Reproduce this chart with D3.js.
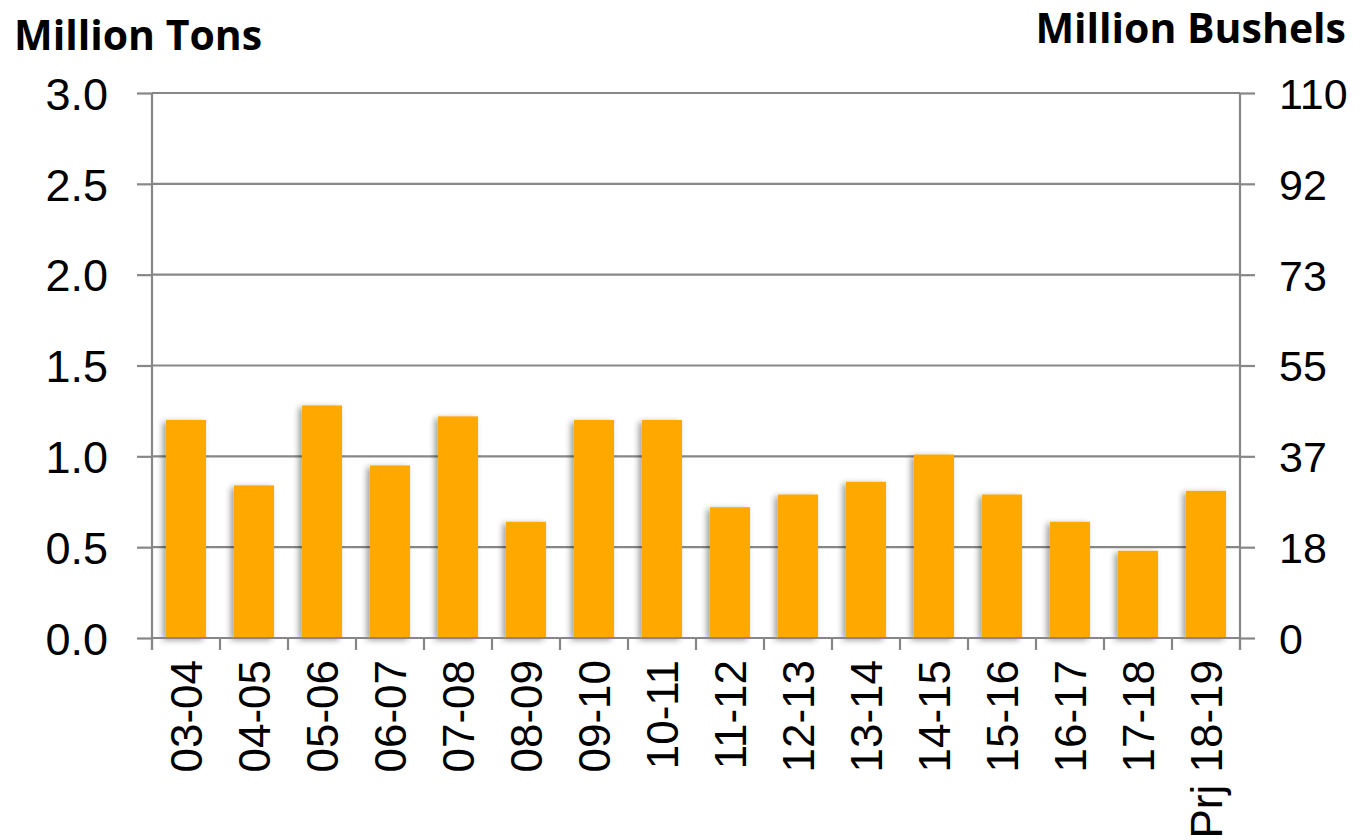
<!DOCTYPE html>
<html>
<head>
<meta charset="utf-8">
<script src="https://cdn.jsdelivr.net/npm/d3@7"></script>
<style>
body{margin:0;background:#fff;}
.tick text{font-family:"Liberation Sans",Arial,sans-serif;}
.title{font-family:"Open Sans","DejaVu Sans",sans-serif;font-weight:bold;}
</style>
</head>
<body>
<svg id="chart" width="1363" height="840"></svg>
<script>
var years = ["03-04","04-05","05-06","06-07","07-08","08-09","09-10","10-11",
             "11-12","12-13","13-14","14-15","15-16","16-17","17-18","Prj 18-19"];
var tons = [1.20,0.84,1.28,0.95,1.22,0.64,1.20,1.20,0.72,0.79,0.86,1.01,0.79,0.64,0.48,0.81];
var leftTicks = [0,0.5,1.0,1.5,2.0,2.5,3.0];
var rightTicks = [0,18.33,36.67,55,73.33,91.67,110];

var svg = d3.select("#chart");
var plotLeft = 152, plotRight = 1240, plotTop = 93, plotBottom = 638;
var grey = "#878787";

var defs = svg.append("defs");
var f = defs.append("filter").attr("id","shadow")
    .attr("x","-20%").attr("y","-10%").attr("width","140%").attr("height","120%");
f.append("feDropShadow").attr("dx",-3).attr("dy",2).attr("stdDeviation",3)
    .attr("flood-color","#000").attr("flood-opacity",0.4);

var xScale = d3.scaleBand().domain(years).range([plotLeft,plotRight]).paddingInner(0.41).paddingOuter(0.205);
var xTicks = d3.scaleBand().domain(years).range([plotLeft,plotRight]);
var yScale = d3.scaleLinear().domain([0,3]).range([plotBottom,plotTop]);
var yRight = d3.scaleLinear().domain([0,110]).range([plotBottom,plotTop]);

// gridlines
svg.append("g").selectAll("line").data(leftTicks.slice(1)).enter().append("line")
  .attr("x1",plotLeft).attr("x2",plotRight)
  .attr("y1",function(d){return yScale(d);}).attr("y2",function(d){return yScale(d);})
  .attr("stroke",grey).attr("stroke-width",2.2);

// bars
svg.append("g").selectAll("rect").data(tons).enter().append("rect")
  .attr("x",function(d,i){return xScale(years[i]);})
  .attr("width",xScale.bandwidth())
  .attr("y",function(d){return yScale(d);})
  .attr("height",function(d){return plotBottom-yScale(d);})
  .attr("fill","#ffa800")
  .attr("filter","url(#shadow)");

// left axis
var yAxisL = d3.axisLeft(yScale).tickValues(leftTicks).tickFormat(d3.format(".1f"))
  .tickSizeInner(15).tickSizeOuter(0).tickPadding(29);
var gl = svg.append("g").attr("transform","translate("+plotLeft+",0)").call(yAxisL);
gl.select(".domain").remove();
gl.selectAll(".tick line").attr("stroke",grey).attr("stroke-width",2.2);
gl.selectAll(".tick text").attr("font-size",45).attr("fill","#000").attr("dy","0.36em");
svg.append("line").attr("x1",plotLeft).attr("x2",plotLeft).attr("y1",plotTop).attr("y2",plotBottom+12)
  .attr("stroke",grey).attr("stroke-width",2.2);

// right axis
var yAxisR = d3.axisRight(yRight).tickValues(rightTicks).tickFormat(d3.format(".0f"))
  .tickSizeInner(15).tickSizeOuter(0).tickPadding(24);
var gr = svg.append("g").attr("transform","translate("+plotRight+",0)").call(yAxisR);
gr.select(".domain").remove();
gr.selectAll(".tick line").attr("stroke",grey).attr("stroke-width",2.2);
gr.selectAll(".tick text").attr("font-size",43).attr("fill","#000").attr("dy","0.36em");
svg.append("line").attr("x1",plotRight).attr("x2",plotRight).attr("y1",plotTop).attr("y2",plotBottom+12)
  .attr("stroke",grey).attr("stroke-width",2.2);

// bottom axis
svg.append("line").attr("x1",plotLeft).attr("x2",plotRight).attr("y1",plotBottom).attr("y2",plotBottom)
  .attr("stroke",grey).attr("stroke-width",2.2);
svg.append("g").selectAll("line").data(years.concat(["end"])).enter().append("line")
  .attr("x1",function(d,i){return plotLeft+i*xTicks.step();})
  .attr("x2",function(d,i){return plotLeft+i*xTicks.step();})
  .attr("y1",plotBottom).attr("y2",plotBottom+12)
  .attr("stroke",grey).attr("stroke-width",2.2);

var xAxis = d3.axisBottom(xTicks).tickSize(0).tickPadding(0);
var gx = svg.append("g").attr("transform","translate(0,"+plotBottom+")").call(xAxis);
gx.select(".domain").remove();
gx.selectAll(".tick text")
  .attr("font-size",44).attr("fill","#000")
  .attr("transform","rotate(-90)")
  .attr("text-anchor","end")
  .attr("x",-22).attr("y",0).attr("dy","0.36em");

// titles
svg.append("text").attr("class","title").attr("x",14).attr("y",50)
  .attr("font-size",41).text("Million Tons");
svg.append("text").attr("class","title").attr("x",1346).attr("y",43)
  .attr("text-anchor","end").attr("font-size",41).text("Million Bushels");
</script>
</body>
</html>
